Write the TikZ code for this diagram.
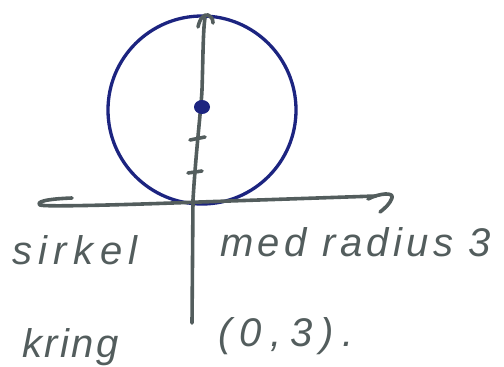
\documentclass[tikz,border=0pt]{standalone}
\usepackage{fontspec}
\setmainfont{Liberation Sans}
\definecolor{pen}{HTML}{535D5D}
\definecolor{navy}{HTML}{1C2480}
\newcommand{\ls}[1]{\addfontfeature{LetterSpace=#1}}
\tikzset{
  penline/.style={draw=pen,line width=3.6pt,line cap=round,line join=round},
  circline/.style={draw=navy,line width=3.3pt},
  handtext/.style={text=pen,font=\fontsize{40}{46}\selectfont\itshape,inner sep=0pt,anchor=base west}
}
\begin{document}
\begin{tikzpicture}[x=1pt,y=-1pt]
\useasboundingbox (0,0) rectangle (504,367);
% circle
\draw[circline] (202,110) circle[radius=94];
% x axis with curled left end and hook tip
\draw[penline] (72,198) .. controls (45,199) and (36,202) .. (40,205)
  .. controls (44,207) and (120,205) .. (200,202) -- (376,196);
\draw[penline] (368,199) .. controls (380,193) and (394,192) .. (392,198)
  .. controls (390,204) and (384,209) .. (380,212);
% y axis with hook tip
\draw[penline] (192,323) -- (193,200) .. controls (196,150) and (201,110) .. (202,90)
  .. controls (203,60) and (203,30) .. (205,18);
\draw[penline] (198,27) .. controls (200,18) and (204,14) .. (208,15)
  .. controls (211,16) and (213,19) .. (213,23);
% ticks
\draw[penline] (190,140) -- (205,137);
\draw[penline] (188,173) -- (202,171);
% centre dot
\fill[navy] (202,107) ellipse[x radius=8,y radius=7];
% labels
\node[handtext] (sirkel) at (12,264) {\ls{16}sirkel};
\node[handtext] (med) at (220,256) {\ls{11}med radius 3};
\node[handtext] (kring) at (22,357) {\ls{6}kring};
\node[handtext] (punkt) at (218,346) {\ls{21}(0,3).};
\end{tikzpicture}
\end{document}
